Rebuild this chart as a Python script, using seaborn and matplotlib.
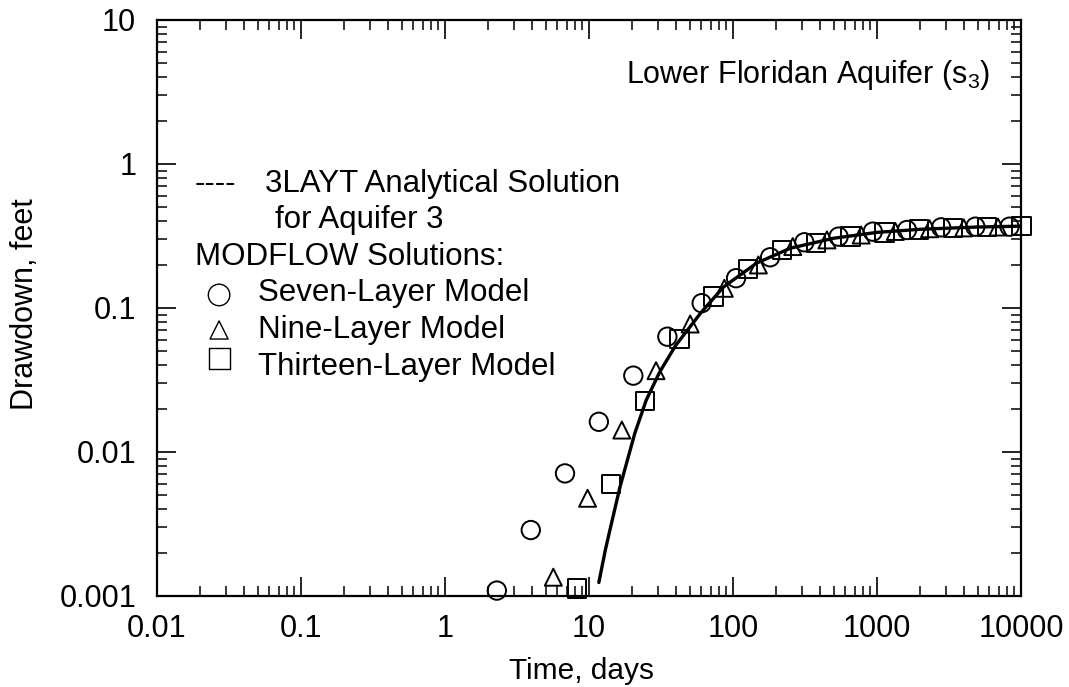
import numpy as np
import pandas as pd
import matplotlib
matplotlib.use("Agg")
import matplotlib.pyplot as plt
import seaborn as sns
from matplotlib.ticker import FixedLocator, FixedFormatter, LogLocator, NullFormatter

# ---------------- data ----------------
# Analytical solution (3LAYT), Aquifer 3
t_analytic = [11.7, 13.0, 14.0, 16.4, 20.8, 25.0, 31.0, 40.0, 60.0, 86.0, 146.0,
              250.0, 500.0, 1000.0, 2000.0, 5000.0, 10000.0]
s_analytic = [0.00124, 0.0021, 0.0029, 0.0057, 0.0135, 0.023, 0.036, 0.055, 0.093,
              0.14, 0.205, 0.26, 0.305, 0.335, 0.352, 0.365, 0.37]

# MODFLOW solutions
t_seven = [2.29, 3.94, 6.81, 11.7, 20.3, 35.0, 60.6, 105, 181, 313, 541, 935,
           1615, 2790, 4820, 8320]
s_seven = [0.00109, 0.00287, 0.0071, 0.0162, 0.0339, 0.0632, 0.108, 0.161, 0.225,
           0.286, 0.313, 0.339, 0.348, 0.363, 0.367, 0.367]

t_nine = [5.65, 9.77, 16.9, 29.2, 50.4, 87, 150, 260, 449, 776, 1340, 2317, 4000, 6918]
s_nine = [0.00135, 0.00477, 0.0142, 0.0367, 0.0774, 0.137, 0.199, 0.267, 0.297,
          0.321, 0.34, 0.355, 0.36, 0.365]

t_thirteen = [8.22, 14.2, 24.5, 42.4, 73.3, 127, 219, 378, 653, 1128, 1950, 3370,
              5821, 10060]
s_thirteen = [0.00113, 0.00597, 0.0226, 0.0606, 0.120, 0.186, 0.253, 0.284, 0.313,
              0.335, 0.35, 0.36, 0.366, 0.372]

x_ticks = [0.01, 0.1, 1, 10, 100, 1000, 10000]
x_ticklabels = ["0.01", "0.1", "1", "10", "100", "1000", "10000"]
y_ticks = [0.001, 0.01, 0.1, 1, 10]
y_ticklabels = ["0.001", "0.01", "0.1", "1", "10"]

legend_lines = ["----", "3LAYT Analytical Solution", "for Aquifer 3", "MODFLOW Solutions:",
                "Seven-Layer Model", "Nine-Layer Model", "Thirteen-Layer Model"]
annotation = "Lower Floridan Aquifer (s$_3$)"
x_label = "Time, days"
y_label = "Drawdown, feet"

# ---------------- style ----------------
sns.set_style("ticks")
plt.rcParams["font.family"] = ["Liberation Sans", "DejaVu Sans"]
plt.rcParams["mathtext.fontset"] = "custom"
plt.rcParams["mathtext.rm"] = "Liberation Sans"
plt.rcParams["mathtext.it"] = "Liberation Sans:italic"
plt.rcParams["mathtext.bf"] = "Liberation Sans:bold"
for key in ["text.color", "axes.labelcolor", "xtick.color", "ytick.color",
            "axes.edgecolor"]:
    plt.rcParams[key] = "black"

fig = plt.figure(figsize=(10.69, 6.87), dpi=100)
ax = fig.add_axes([0.1469, 0.1325, 0.8082, 0.8384])

df_line = pd.DataFrame({"t": t_analytic, "s": s_analytic})
sns.lineplot(data=df_line, x="t", y="s", color="black", linewidth=2.4, ax=ax,
             sort=False, zorder=3)

mk = dict(facecolor="none", edgecolor="black", linewidth=1.4, clip_on=False, zorder=4, ax=ax)
sns.scatterplot(x=t_seven, y=s_seven, marker="o", s=175, **mk)
sns.scatterplot(x=t_nine, y=s_nine, marker="^", s=150, **mk)
sns.scatterplot(x=t_thirteen, y=s_thirteen, marker="s", s=175, **mk)

ax.set_xscale("log")
ax.set_yscale("log")
ax.set_xlim(0.01, 10000)
ax.set_ylim(0.001, 10)

ax.xaxis.set_major_locator(FixedLocator(x_ticks))
ax.xaxis.set_major_formatter(FixedFormatter(x_ticklabels))
ax.yaxis.set_major_locator(FixedLocator(y_ticks))
ax.yaxis.set_major_formatter(FixedFormatter(y_ticklabels))
ax.xaxis.set_minor_locator(LogLocator(base=10, subs=np.arange(2, 10), numticks=20))
ax.yaxis.set_minor_locator(LogLocator(base=10, subs=np.arange(2, 10), numticks=20))
ax.xaxis.set_minor_formatter(NullFormatter())
ax.yaxis.set_minor_formatter(NullFormatter())

ax.tick_params(which="both", direction="in", top=True, right=True, color="black",
               labelcolor="black")
ax.tick_params(which="major", length=14, width=1.2, labelsize=22)
ax.tick_params(which="minor", length=7, width=1.1)
ax.tick_params(axis="x", which="major", pad=13)
ax.tick_params(axis="y", which="major", pad=15)
for sp in ax.spines.values():
    sp.set_visible(True)
    sp.set_linewidth(1.6)
    sp.set_color("black")

ax.set_xlabel(x_label, fontsize=21.5, color="black")
ax.set_ylabel(y_label, fontsize=22, color="black")
ax.xaxis.set_label_coords(0.491, -0.106)
ax.yaxis.set_label_coords(-0.136, 0.507)

# ---------------- legend block (text) ----------------
fs = 22.5
tr = ax.transAxes
ax.text(0.044, 0.7014, legend_lines[0], fontsize=fs, transform=tr, va="baseline")
ax.text(0.125, 0.7014, legend_lines[1], fontsize=fs, transform=tr, va="baseline")
ax.text(0.1366, 0.638, legend_lines[2], fontsize=fs, transform=tr, va="baseline")
ax.text(0.044, 0.5747, legend_lines[3], fontsize=fs, transform=tr, va="baseline")
ax.text(0.117, 0.5113, legend_lines[4], fontsize=fs, transform=tr, va="baseline")
ax.text(0.117, 0.4479, legend_lines[5], fontsize=fs, transform=tr, va="baseline")
ax.text(0.117, 0.3845, legend_lines[6], fontsize=fs, transform=tr, va="baseline")
lg = dict(facecolors="none", edgecolors="black", linewidths=1.0, transform=tr, clip_on=False)
ax.scatter([0.0718], [0.5226], marker="o", s=240, **lg)
ax.scatter([0.0718], [0.4618], marker="^", s=170, **lg)
ax.scatter([0.0718], [0.4115], marker="s", s=230, **lg)

ax.text(0.964, 0.8906, annotation, fontsize=22, transform=tr, ha="right", va="baseline")

fig.savefig("out.png", dpi=100)
